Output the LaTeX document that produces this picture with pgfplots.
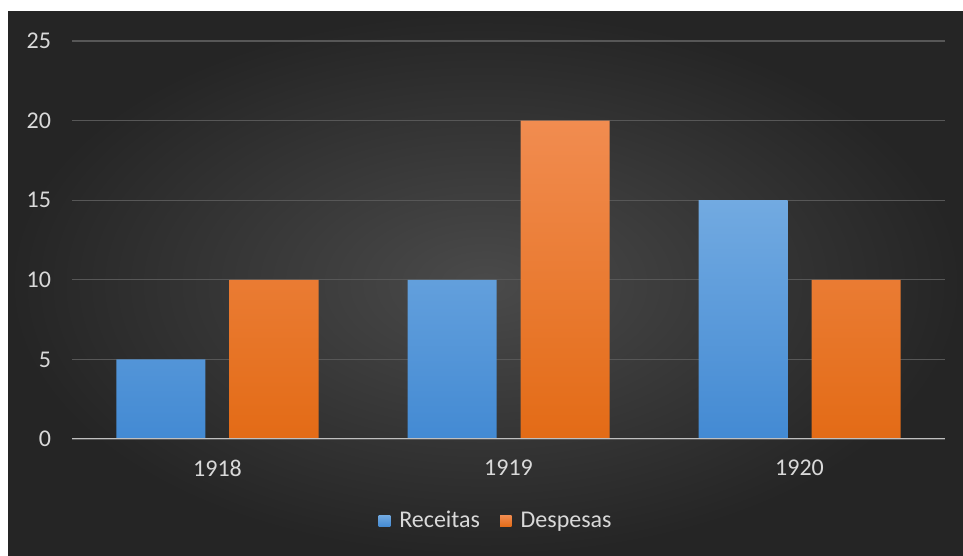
\documentclass[border=0pt]{standalone}
\usepackage{pgfplots}
\pgfplotsset{compat=1.18}
\usepackage{fontspec}
\setmainfont{Carlito}
\definecolor{bgin}{HTML}{4A4A4A}
\definecolor{bgout}{HTML}{252525}
\definecolor{tickc}{HTML}{D9D9D9}
\definecolor{gridc}{HTML}{575757}
\definecolor{axc}{HTML}{BFBFBF}
\definecolor{bluetop}{HTML}{72AAE1}
\definecolor{bluebot}{HTML}{438AD3}
\definecolor{orgtop}{HTML}{F18C50}
\definecolor{orgbot}{HTML}{E36B16}
\begin{document}
\begin{tikzpicture}
\useasboundingbox[fill=white] (-36pt,-58.5pt) rectangle (445.5pt,219.5pt);
\shade[inner color=bgin, outer color=bgout] (-32pt,-58.5pt) rectangle (445.5pt,213.5pt);
\begin{axis}[
  at={(0,0)}, anchor=south west,
  scale only axis, width=436.5pt, height=199pt,
  xmin=-0.5, xmax=2.5, ymin=0, ymax=25,
  xtick={0,1,2}, xticklabels={1918,1919,1920},
  ytick={0,5,...,25},
  axis line style={draw=none},
  major tick length=0pt,
  ymajorgrids, grid style={gridc, line width=0.6pt},
  tick label style={font=\fontsize{12}{14}\selectfont, text=tickc},
  /pgf/number format/assume math mode=true,
  yticklabel style={xshift=-7pt},
  xticklabel style={yshift=-7pt},
  ybar, bar width=44.5pt,
  legend style={at={(0.487,-0.206)}, anchor=center, draw=none, fill=none,
    text=tickc, font=\fontsize{12}{14}\selectfont, legend columns=2,
    /tikz/every even column/.append style={column sep=8pt}},
  legend image code/.code={\fill[#1] (0pt,-2.9pt) rectangle (5.8pt,2.9pt); \path (0pt,0pt) -- (8.3pt,0pt);},
]
\addplot[draw=none, bar shift=-28.25pt, top color=bluetop, bottom color=bluebot] coordinates {(0,5) (1,10) (2,15)};
\addlegendentry{Receitas}
\addplot[draw=none, bar shift=28.25pt, top color=orgtop, bottom color=orgbot] coordinates {(0,10) (1,20) (2,10)};
\addlegendentry{Despesas}
\draw[axc, line width=0.8pt] (rel axis cs:0,0) -- (rel axis cs:1,0);
\end{axis}
\end{tikzpicture}
\end{document}
